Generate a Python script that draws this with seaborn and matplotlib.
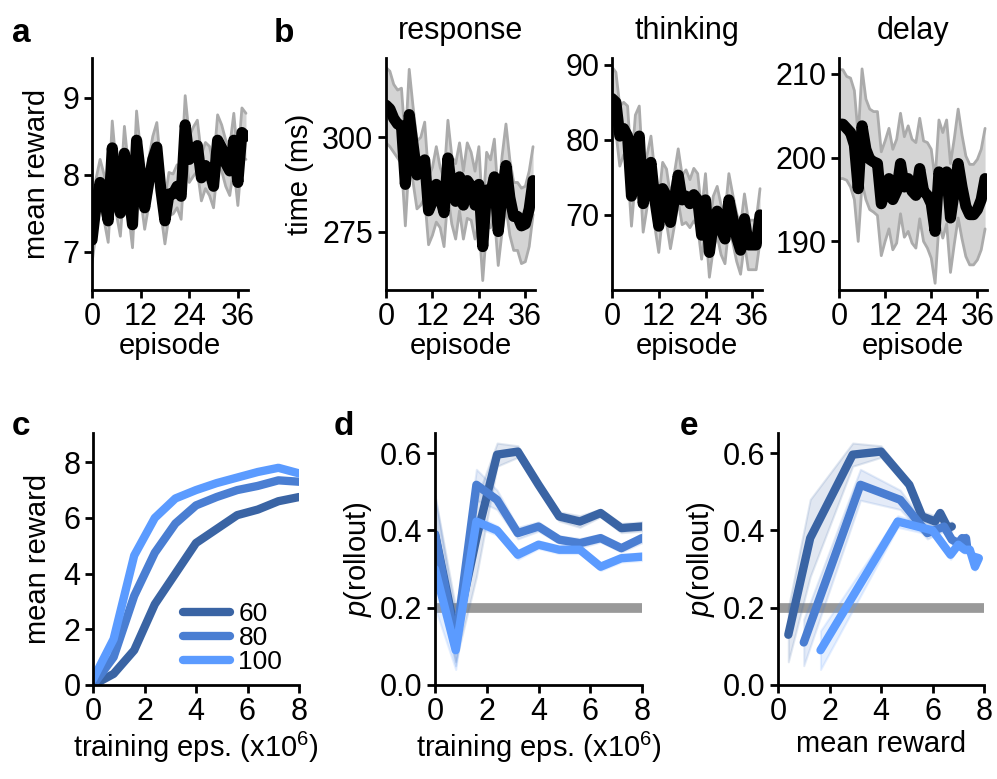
import numpy as np
import pandas as pd
import matplotlib
matplotlib.use("Agg")
import matplotlib.pyplot as plt
import seaborn as sns

# ---- data ----
episodes = list(range(39))

reward_mean = [7.15, 7.6, 7.9, 7.7, 7.4, 8.35, 7.8, 7.5, 8.28, 7.8, 7.35, 8.45, 8.0,
               7.57, 7.9, 8.2, 8.36, 7.8, 7.4, 7.75, 7.75, 7.85, 7.72, 8.65, 8.2, 8.3,
               8.38, 7.96, 8.12, 8.05, 7.85, 8.45, 8.35, 8.15, 8.05, 8.45, 7.9, 8.55, 8.5]
reward_sem = [0.3, 0.35, 0.3, 0.3, 0.28, 0.35, 0.3, 0.3, 0.35, 0.3, 0.3, 0.38, 0.3,
              0.28, 0.3, 0.3, 0.32, 0.3, 0.3, 0.28, 0.26, 0.28, 0.3, 0.38, 0.3, 0.32,
              0.33, 0.3, 0.3, 0.32, 0.28, 0.33, 0.3, 0.3, 0.32, 0.35, 0.3, 0.32, 0.3]

response_mean = [308.5, 307.5, 305, 303.5, 303, 287.5, 306, 298, 290, 291, 294, 280.5, 283,
                 287.5, 284, 280, 294.5, 286, 283, 289.5, 282, 288.5, 287, 282, 287.5, 271,
                 286, 285, 289.5, 275, 285, 292.5, 284, 279, 279, 276.5, 277, 281, 288.5]
response_sem = [10, 10, 9, 9, 10, 11, 12, 10, 9, 9, 10, 9, 9, 10, 8, 9, 10, 9, 10, 9,
                9, 10, 9, 9, 10, 9, 10, 9, 10, 9, 10, 11, 10, 9, 9, 10, 10, 10, 9]

thinking_mean = [85.5, 85, 80.5, 81.5, 80.5, 72.5, 79, 80.5, 71.5, 74.5, 77, 72, 68.5,
                 73.5, 72.5, 69, 72, 75.3, 72, 72.5, 71.5, 72.7, 72, 67.3, 72, 65,
                 69, 70.5, 68, 66.8, 72, 69.5, 67, 65.3, 69.5, 66, 66, 66, 70]
thinking_sem = [4.2, 4, 4, 3.5, 4, 4, 4.3, 4, 3.8, 3.5, 3.5, 3.6, 3.5, 3.5, 3.6, 3.5,
                3.5, 3.5, 3.3, 3.5, 3.2, 3.5, 3.5, 3.2, 3.5, 3.3, 3.5, 3.3, 3.3, 3.3,
                3.5, 3.2, 3.2, 3.2, 3.3, 3.3, 3.3, 3.3, 3.5]

delay_mean = [204, 204, 203.5, 203, 201.5, 196.3, 203.8, 201, 199.8, 199.5, 199.3, 194.5,
              196, 197.5, 195, 196, 199.3, 196.5, 197.5, 196, 195.5, 198.7, 196, 195.5,
              194.5, 191.2, 198.3, 196.7, 198.3, 192.8, 196, 199.3, 196.5, 194.2, 193.2,
              193.2, 193.8, 195, 197.5]
delay_sem = [6.5, 6.5, 6.2, 6.5, 6.5, 6.3, 6.8, 6, 6, 6, 6.2, 6.2, 6, 6, 6, 6.2, 6, 6,
             6.3, 6.2, 6.3, 6, 6, 6.3, 6.5, 6.2, 6.2, 6.3, 6.2, 6.5, 6.3, 6.5, 6.2, 6,
             6, 6, 6, 6, 6]

train_eps = [0, 0.8, 1.6, 2.4, 3.2, 4.0, 4.8, 5.6, 6.4, 7.2, 8.0]
sizes = ["60", "80", "100"]
train_reward = {
    "60": [0, 0.4, 1.25, 2.9, 4.0, 5.1, 5.6, 6.1, 6.3, 6.6, 6.75],
    "80": [0, 1.0, 3.2, 4.75, 5.8, 6.45, 6.75, 7.0, 7.15, 7.35, 7.3],
    "100": [0.2, 1.65, 4.65, 6.0, 6.7, 7.0, 7.25, 7.45, 7.65, 7.8, 7.6],
}
p_rollout = {
    "60": [0.39, 0.13, 0.38, 0.596, 0.604, 0.518, 0.436, 0.423, 0.445, 0.406, 0.41],
    "80": [0.39, 0.11, 0.518, 0.479, 0.393, 0.41, 0.376, 0.367, 0.38, 0.354, 0.38],
    "100": [0.30, 0.09, 0.423, 0.40, 0.337, 0.363, 0.35, 0.35, 0.306, 0.328, 0.332],
}
p_sem = {
    "60": [0.1, 0.07, 0.1, 0.03, 0.015, 0.01, 0.012, 0.015, 0.01, 0.012, 0.012],
    "80": [0.1, 0.06, 0.04, 0.025, 0.015, 0.012, 0.01, 0.012, 0.01, 0.01, 0.012],
    "100": [0.1, 0.05, 0.015, 0.012, 0.012, 0.01, 0.01, 0.01, 0.01, 0.01, 0.01],
}
chance = 0.2
colors = {"60": "#3a64a4", "80": "#4a7ed2", "100": "#5b9bff"}

# ---- style ----
sns.set_style("ticks")
plt.rcParams["font.family"] = ["Liberation Sans", "DejaVu Sans"]
plt.rcParams["mathtext.fontset"] = "custom"
plt.rcParams["mathtext.rm"] = "Liberation Sans"
plt.rcParams["mathtext.it"] = "Liberation Sans:italic"
plt.rcParams["font.size"] = 21
plt.rcParams["axes.linewidth"] = 2
for k in ["text.color", "axes.labelcolor", "xtick.color", "ytick.color", "axes.edgecolor"]:
    plt.rcParams[k] = "black"

W, H = 997, 779
fig = plt.figure(figsize=(W / 100, H / 100), dpi=100)

LAB = 21
TICK = 22


def box(l, r, t, b):
    return [l / W, 1 - b / H, (r - l) / W, (b - t) / H]


def style(ax):
    sns.despine(ax=ax)
    ax.tick_params(length=6, width=2, labelsize=TICK, pad=3)


def ep_panel(ax, mean, sem, ylim, yticks):
    df = pd.DataFrame({"episode": episodes, "value": mean})
    lo = np.array(mean) - np.array(sem)
    hi = np.array(mean) + np.array(sem)
    ax.fill_between(episodes, lo, hi, color="#d4d4d4", lw=0)
    ax.plot(episodes, lo, color="#ababab", lw=2)
    ax.plot(episodes, hi, color="#ababab", lw=2)
    sns.lineplot(data=df, x="episode", y="value", ax=ax, color="black", lw=8,
                 solid_joinstyle="round", solid_capstyle="round")
    ax.set_xlim(0, 38.5)
    ax.set_ylim(*ylim)
    ax.set_xticks([0, 12, 24, 36])
    ax.set_yticks(yticks)
    ax.set_xlabel("episode", fontsize=LAB, labelpad=0)
    ax.set_ylabel("")
    style(ax)


ax_a = fig.add_axes(box(92, 248, 58, 290))
ep_panel(ax_a, reward_mean, reward_sem, (6.5, 9.52), [7, 8, 9])
ax_a.set_ylabel("mean reward", fontsize=LAB, labelpad=8)

ax_r = fig.add_axes(box(386, 535, 58, 290))
ep_panel(ax_r, response_mean, response_sem, (259.5, 321), [275, 300])
ax_r.set_ylabel("time (ms)", fontsize=LAB, labelpad=6)
ax_r.set_title("response", fontsize=22, pad=14)

ax_t = fig.add_axes(box(612, 762, 58, 290))
ep_panel(ax_t, thinking_mean, thinking_sem, (60, 90.9), [70, 80, 90])
ax_t.set_title("thinking", fontsize=22, pad=14)

ax_d = fig.add_axes(box(839, 987, 58, 290))
ep_panel(ax_d, delay_mean, delay_sem, (184.2, 211.9), [190, 200, 210])
ax_d.set_title("delay", fontsize=22, pad=14)

# c: mean reward over training
ax_c = fig.add_axes(box(93, 299, 433, 685))
rows = []
for s in sizes:
    for x, y in zip(train_eps, train_reward[s]):
        rows.append({"eps": x, "reward": y, "size": s})
dfc = pd.DataFrame(rows)
sns.lineplot(data=dfc, x="eps", y="reward", hue="size", palette=colors, lw=6,
             ax=ax_c, solid_joinstyle="round")
ax_c.set_xlim(0, 8)
ax_c.set_ylim(0, 9.05)
ax_c.set_xticks([0, 2, 4, 6, 8])
ax_c.set_yticks([0, 2, 4, 6, 8])
ax_c.set_xlabel("training eps. (x10$^6$)", fontsize=LAB, labelpad=2)
ax_c.set_ylabel("mean reward", fontsize=LAB, labelpad=8)
leg = ax_c.legend(frameon=False, loc="lower right", fontsize=19, handlelength=1.8,
                  handletextpad=0.3, labelspacing=0.0, borderaxespad=0.0,
                  bbox_to_anchor=(0.97, 0.0))
for h in leg.get_lines():
    h.set_linewidth(6)
style(ax_c)


def p_panel(ax, xs_of):
    for s in sizes:
        xs = np.array(xs_of(s))
        ys = np.array(p_rollout[s])
        se = np.array(p_sem[s])
        if len(xs) < len(ys):
            ys, se = ys[1:], se[1:]
        ax.fill_between(xs, ys - se, ys + se, color=colors[s], alpha=0.15, lw=1.5,
                        edgecolor=colors[s])
    for s in sizes:
        xs = list(xs_of(s))
        ys = p_rollout[s][-len(xs):]
        sns.lineplot(x=xs, y=ys, ax=ax, color=colors[s], lw=6, sort=False,
                     solid_joinstyle="round")
    ax.axhline(chance, xmin=0, xmax=1, color="#999999", lw=7, zorder=0)
    ax.set_xlim(0, 8)
    ax.set_ylim(0, 0.652)
    ax.set_xticks([0, 2, 4, 6, 8])
    ax.set_yticks([0.0, 0.2, 0.4, 0.6])
    ax.set_ylabel("$p$(rollout)", fontsize=LAB)
    style(ax)


ax_dd = fig.add_axes(box(435, 642, 433, 685))
p_panel(ax_dd, lambda s: train_eps)
ax_dd.set_xlabel("training eps. (x10$^6$)", fontsize=LAB, labelpad=2)

ax_e = fig.add_axes(box(778, 984, 433, 685))
p_panel(ax_e, lambda s: train_reward[s][1:])
ax_e.set_xlabel("mean reward", fontsize=LAB, labelpad=2)

for letter, x, y in [("a", 12, 42), ("b", 274, 42), ("c", 12, 435), ("d", 334, 435),
                     ("e", 680, 435)]:
    fig.text(x / W, 1 - y / H, letter, fontsize=24, fontweight="bold")

fig.savefig("out.png", dpi=100)
